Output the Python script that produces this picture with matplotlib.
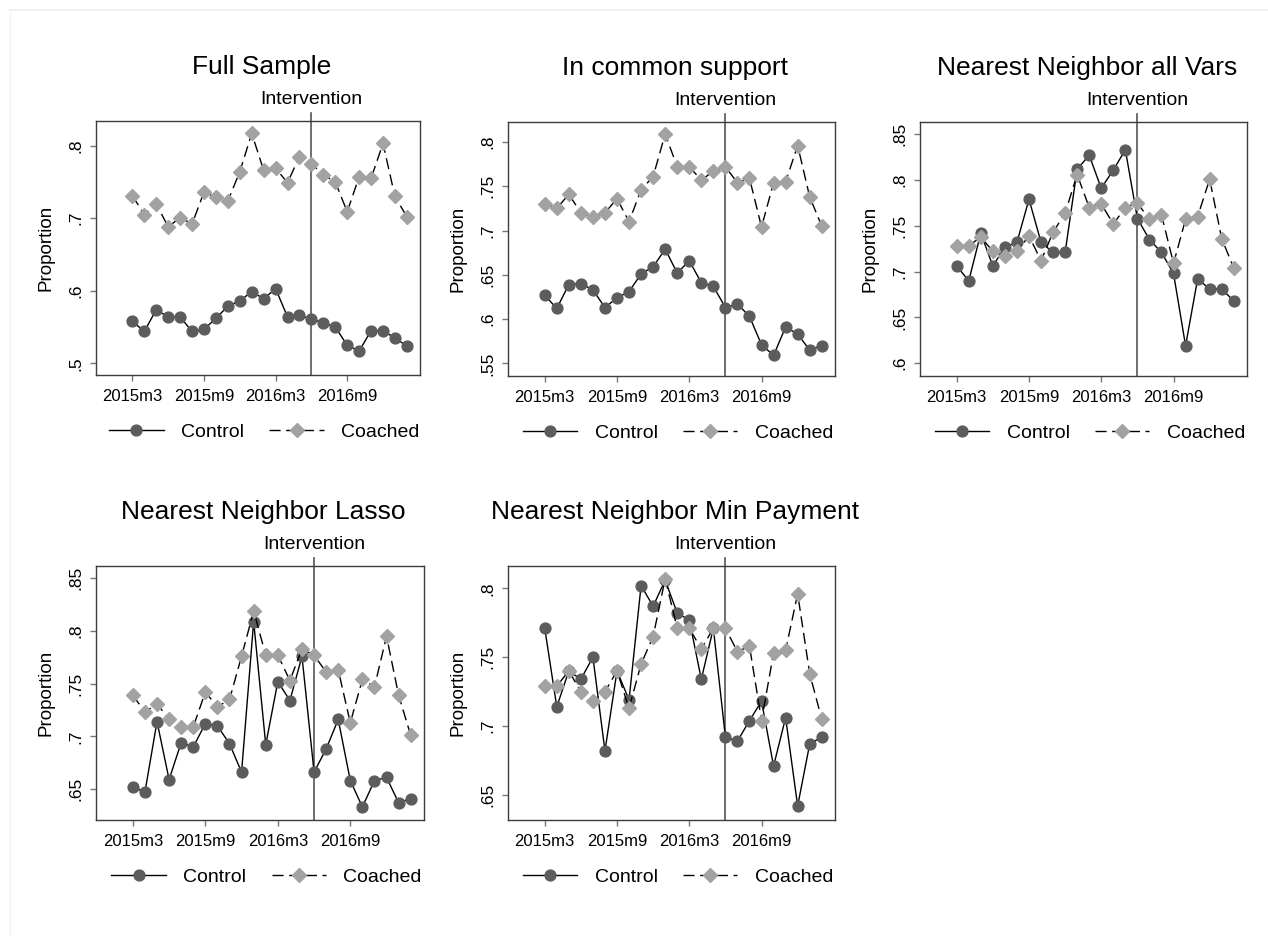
import numpy as np
import matplotlib.pyplot as plt
from matplotlib.lines import Line2D

plt.rcParams['font.family'] = ['Liberation Sans', 'DejaVu Sans']

# months 2015m3 .. 2017m2, index 0 = 2015m3
months = np.arange(24)
xtick_pos = [0, 6, 12, 18]
xtick_labels = ["2015m3", "2015m9", "2016m3", "2016m9"]
intervention = 15  # 2016m6

titles = ["Full Sample", "In common support", "Nearest Neighbor all Vars",
          "Nearest Neighbor Lasso", "Nearest Neighbor Min Payment"]

control_full = [0.558, 0.544, 0.574, 0.564, 0.564, 0.544, 0.547, 0.562, 0.579, 0.586, 0.599, 0.589,
                0.603, 0.564, 0.566, 0.561, 0.556, 0.550, 0.525, 0.517, 0.545, 0.545, 0.535, 0.524]
coached_full = [0.731, 0.705, 0.720, 0.688, 0.701, 0.692, 0.736, 0.729, 0.724, 0.764, 0.817, 0.766,
                0.769, 0.749, 0.785, 0.775, 0.760, 0.750, 0.709, 0.757, 0.755, 0.803, 0.730, 0.702]

control_cs = [0.627, 0.612, 0.639, 0.640, 0.633, 0.613, 0.624, 0.631, 0.651, 0.659, 0.679, 0.652,
              0.666, 0.641, 0.637, 0.613, 0.617, 0.603, 0.571, 0.559, 0.591, 0.583, 0.565, 0.570]
coached_cs = [0.730, 0.725, 0.741, 0.720, 0.715, 0.720, 0.736, 0.710, 0.746, 0.761, 0.809, 0.772,
              0.772, 0.757, 0.767, 0.772, 0.754, 0.759, 0.704, 0.754, 0.755, 0.796, 0.738, 0.705]

control_nnall = [0.706, 0.690, 0.742, 0.706, 0.727, 0.732, 0.779, 0.732, 0.721, 0.721, 0.812, 0.827,
                 0.791, 0.811, 0.833, 0.758, 0.735, 0.721, 0.698, 0.619, 0.692, 0.681, 0.681, 0.668]
coached_nnall = [0.728, 0.728, 0.738, 0.722, 0.717, 0.722, 0.739, 0.712, 0.743, 0.764, 0.806, 0.770,
                 0.774, 0.752, 0.770, 0.775, 0.757, 0.762, 0.709, 0.757, 0.760, 0.801, 0.736, 0.704]

control_lasso = [0.652, 0.647, 0.714, 0.659, 0.694, 0.690, 0.712, 0.710, 0.693, 0.666, 0.809, 0.692,
                 0.752, 0.734, 0.776, 0.666, 0.688, 0.716, 0.658, 0.633, 0.658, 0.661, 0.637, 0.641]
coached_lasso = [0.739, 0.723, 0.731, 0.716, 0.709, 0.709, 0.742, 0.728, 0.735, 0.776, 0.819, 0.777,
                 0.777, 0.753, 0.783, 0.777, 0.761, 0.763, 0.713, 0.754, 0.747, 0.795, 0.739, 0.701]

control_minpay = [0.771, 0.714, 0.740, 0.734, 0.750, 0.682, 0.740, 0.719, 0.802, 0.787, 0.806, 0.782,
                  0.777, 0.734, 0.771, 0.692, 0.689, 0.704, 0.718, 0.671, 0.706, 0.642, 0.687, 0.692]
coached_minpay = [0.729, 0.729, 0.740, 0.725, 0.718, 0.725, 0.740, 0.713, 0.745, 0.765, 0.807, 0.771,
                  0.771, 0.756, 0.771, 0.771, 0.754, 0.758, 0.704, 0.753, 0.755, 0.796, 0.738, 0.705]

controls = [control_full, control_cs, control_nnall, control_lasso, control_minpay]
coacheds = [coached_full, coached_cs, coached_nnall, coached_lasso, coached_minpay]

yticks = [[0.5, 0.6, 0.7, 0.8],
          [0.55, 0.6, 0.65, 0.7, 0.75, 0.8],
          [0.6, 0.65, 0.7, 0.75, 0.8, 0.85],
          [0.65, 0.7, 0.75, 0.8, 0.85],
          [0.65, 0.7, 0.75, 0.8]]
ylims = [(0.484, 0.834), (0.5357, 0.8226), (0.586, 0.8634), (0.6206, 0.8617), (0.6318, 0.8162)]

# panel boxes in pixels: left, top, right, bottom
boxes = [(96, 121, 420, 375), (508, 122, 835, 376), (920, 122, 1247, 376),
         (96, 566, 424, 820), (508, 566, 835, 820)]

W, H = 1268, 936
fig = plt.figure(figsize=(W / 100, H / 100), dpi=100)
fig.patch.set_facecolor('white')

# faint outer frame
fig.add_artist(Line2D([10 / W, 1.0], [1 - 10 / H, 1 - 10 / H], color='#eceeee', lw=1.2))
fig.add_artist(Line2D([10 / W, 10 / W], [1 - 10 / H, 0.0], color='#f2f3f3', lw=1.0))

c_dark = '#5c5c5c'
c_light = '#a2a2a2'

for i in range(5):
    l, t, r, b = boxes[i]
    ax = fig.add_axes([l / W, 1 - b / H, (r - l) / W, (b - t) / H])
    ax.plot(months, controls[i], color='black', lw=1.0, marker='o', ms=7.8,
            mfc=c_dark, mec=c_dark, label='Control', zorder=3)
    ax.plot(months, coacheds[i], color='black', lw=1.0, ls=(0, (8, 4)), marker='D', ms=7.2,
            mfc=c_light, mec=c_light, label='Coached', zorder=3)
    ax.set_xlim(-3.05, 24.1)
    ax.set_ylim(*ylims[i])
    ax.set_xticks(xtick_pos)
    ax.set_xticklabels(xtick_labels, fontsize=12)
    ax.set_yticks(yticks[i])
    ax.set_yticklabels([('%g' % v).lstrip('0') for v in yticks[i]], fontsize=12.5,
                       rotation=90, va='center')
    ax.tick_params(length=4, width=1, color='#777777')
    ax.tick_params(axis='x', pad=6)
    ax.tick_params(axis='y', pad=5)
    for s in ax.spines.values():
        s.set_color('#3c3c3c')
        s.set_linewidth(1.0)
    ax.set_ylabel('Proportion', fontsize=13.5, labelpad=10)

    ax.plot([intervention, intervention], [0, 1.031], transform=ax.get_xaxis_transform(),
            color='#555555', lw=1.2, clip_on=False, zorder=2)
    ax.text(intervention, 1.083, 'Intervention', transform=ax.get_xaxis_transform(),
            ha='center', va='center', fontsize=14)
    ax.text(0.51, 1.213, titles[i], transform=ax.transAxes, ha='center', va='center',
            fontsize=19)

    ax.legend(loc='center', bbox_to_anchor=(0.52, -0.225), ncol=2, frameon=False,
              fontsize=14, handlelength=2.8, handletextpad=0.9, columnspacing=1.3)

fig.savefig('out.png', dpi=100, facecolor='white')
